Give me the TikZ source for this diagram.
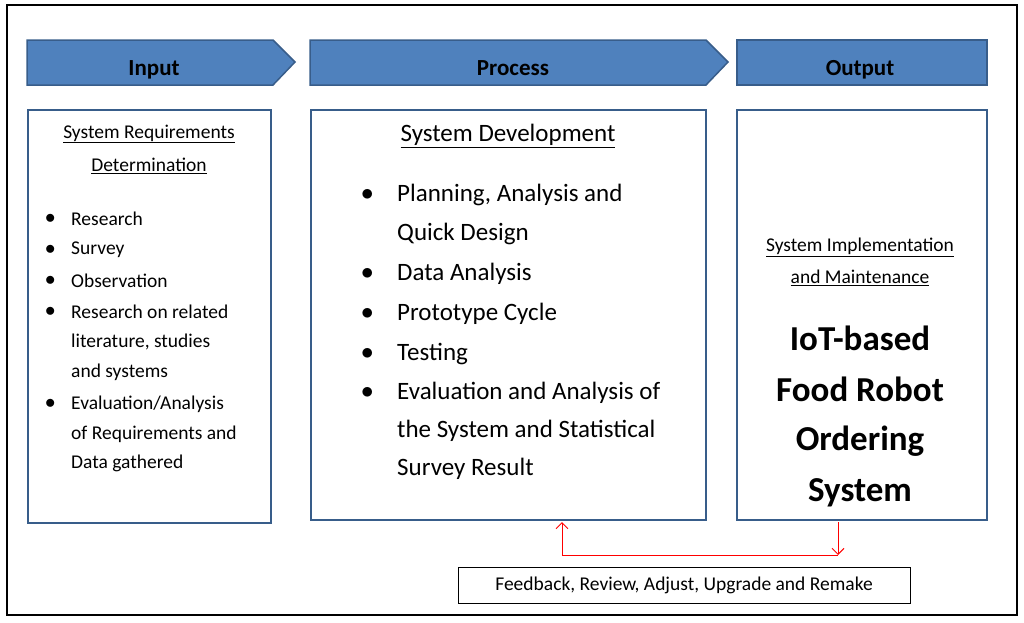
\documentclass[tikz,border=0pt]{standalone}
\usepackage{fontspec}
\setmainfont{Carlito}
\usetikzlibrary{arrows.meta}
\definecolor{bfill}{RGB}{79,129,189}
\definecolor{bdraw}{RGB}{56,93,138}
\begin{document}
\begin{tikzpicture}[x=1pt,y=-1pt,
  banner/.style={draw=bdraw,fill=bfill,line width=1.5pt},
  bluebox/.style={draw=bdraw,line width=2.5pt},
  btxt/.style={font=\fontsize{23}{25}\selectfont\bfseries,anchor=base,inner sep=0},
  s/.style={font=\fontsize{19.5}{21}\selectfont,anchor=west,inner sep=0},
  p/.style={font=\fontsize{25}{27}\selectfont,anchor=west,inner sep=0},
  sh/.style={font=\fontsize{19.5}{21}\selectfont,inner sep=0},
  big/.style={font=\fontsize{35}{37}\selectfont\bfseries,inner sep=0},
  fb/.style={red,line width=1pt}]
\useasboundingbox (0,0) rectangle (1024,622);
\draw[line width=1.5pt] (7,5) rectangle (1017,615);
\fill[banner,draw] (27,40) -- (273,40) -- (295,62) -- (273,85) -- (27,85) -- cycle;
\fill[banner,draw] (310,40) -- (706,40) -- (728,62) -- (706,85) -- (310,85) -- cycle;
\fill[banner,draw] (737,40) rectangle (987,85);
\node[btxt] (ti) at (154,75) {Input};
\node[btxt] (tp) at (513,75) {Process};
\node[btxt] (to) at (860,75) {Output};
\draw[bluebox] (28,110) rectangle (271,523);
\draw[bluebox] (311,110) rectangle (706,520);
\node[draw=bdraw,line width=2.5pt,minimum width=250,minimum height=410,inner sep=0] (ob) at (862,315) {};
% input
\node[sh] (i1) at (149,134) {\underline{System Requirements}};
\node[sh] (i2) at (149,166) {\underline{Determination}};
\foreach \y/\t [count=\k] in {219/Research,250/Survey,281/Observation,312/Research on related,342/{literature, studies},372/and systems,404/{Evaluation/Analysis},434/of Requirements and,463/Data gathered}
  \node[s] (il\k) at (71,\y) {\t};
\foreach \y [count=\k] in {219,250,281,312,404}
  \node[s] (ib\k) at (45,\y) {$\bullet$};
% process
\node[font=\fontsize{25}{27}\selectfont,inner sep=0] (ph) at (508,136) {\underline{System Development}};
\foreach \y/\t [count=\k] in {195/{Planning, Analysis and},234/Quick Design,274/Data Analysis,314/Prototype Cycle,354/Testing,393/Evaluation and Analysis of,431/the System and Statistical,469/Survey Result}
  \node[p] (pl\k) at (397,\y) {\t};
\foreach \y [count=\k] in {195,274,314,354,393}
  \node[p] (pbul\k) at (361,\y) {$\bullet$};
% output
\node[sh] (o1) at (860,247) {\underline{System Implementation}};
\node[sh] (o2) at (860,278) {\underline{and Maintenance}};
\node[big] (o3) at (860,338) {IoT-based};
\node[big] (o4) at (860,389) {Food Robot};
\node[big] (o5) at (860,441) {Ordering};
\node[big] (o6) at (860,493) {System};
% feedback
\node[draw,line width=1pt,minimum width=452,minimum height=36,inner sep=0,font=\fontsize{19.5}{21}\selectfont] (fb) at (684,585) {Feedback, Review, Adjust, Upgrade and Remake};
\coordinate (c1) at (838,555);
\coordinate (c2) at (562,555);
\coordinate (ot) at (838,522);
\coordinate (pt) at (562,522);
\draw[fb,-{Straight Barb[length=6pt,width=12pt]}] (ot) -- (c1);
\draw[fb,-{Straight Barb[length=6pt,width=12pt]}] (c1) -- (c2) -- (pt);
\end{tikzpicture}
\end{document}
